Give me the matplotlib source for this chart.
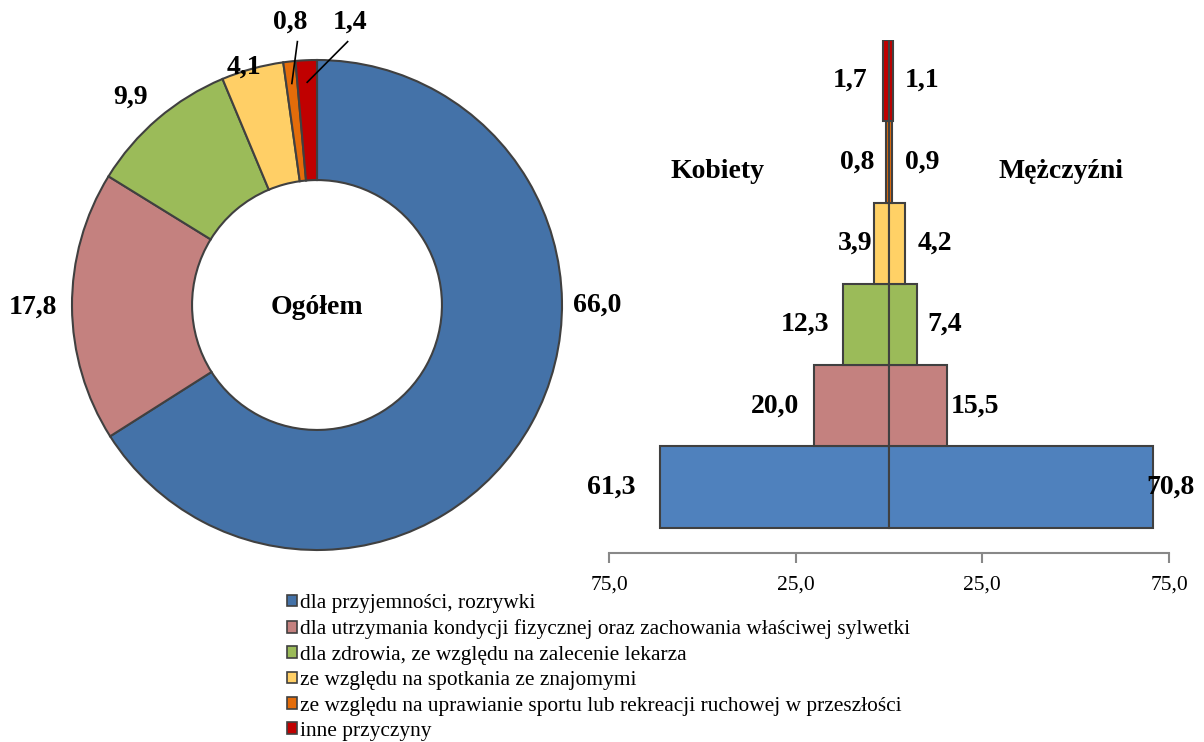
import numpy as np
import matplotlib.pyplot as plt
from matplotlib.patches import Patch

plt.rcParams['font.family'] = ['Liberation Serif', 'DejaVu Serif']

# dane
categories = ['dla przyjemności, rozrywki',
              'dla utrzymania kondycji fizycznej oraz zachowania właściwej sylwetki',
              'dla zdrowia, ze względu na zalecenie lekarza',
              'ze względu na spotkania ze znajomymi',
              'ze względu na uprawianie sportu lub rekreacji ruchowej w przeszłości',
              'inne przyczyny']
ogolem = [66.0, 17.8, 9.9, 4.1, 0.8, 1.4]
kobiety = [61.3, 20.0, 12.3, 3.9, 0.8, 1.7]
mezczyzni = [70.8, 15.5, 7.4, 4.2, 0.9, 1.1]
tick_vals = [-75, -25, 25, 75]

donut_colors = ['#4472A8', '#C4817F', '#9BBB59', '#FFCF66', '#E46C0A', '#C00000']
bar_colors = ['#4F81BD', '#C4817F', '#9BBB59', '#FFD166', '#E46C0A', '#C00000']
edge = '#404040'

# polozenie etykiet
label_pos = [(1.145, 0.0), (-1.16, -0.01), (-0.76, 0.85), (-0.30, 0.97),
             (-0.11, 1.155), (0.135, 1.155)]
kob_label_x = [-74.3, -30.6, -22.5, -9.1, -8.6, -10.5]
men_label_x = [75.3, 23.0, 15.0, 12.3, 8.8, 8.8]


def fmt(v):
    return ('%.1f' % v).replace('.', ',')


fig = plt.figure(figsize=(12.04, 7.42), dpi=100)

# --- pierscien ---
ax1 = fig.add_axes([17 / 1204, 137 / 742, 600 / 1204, 600 / 742])
wedges, _ = ax1.pie(ogolem, colors=donut_colors, startangle=90, counterclock=False,
                    radius=1.0, wedgeprops=dict(width=0.49, edgecolor=edge, linewidth=1.5))
ax1.set_xlim(-1.2245, 1.2245)
ax1.set_ylim(-1.2245, 1.2245)
ax1.set_aspect('equal')
ax1.axis('off')
ax1.text(0, -0.01, 'Ogółem', ha='center', va='center', fontsize=20, fontweight='bold')

for i, (w, v) in enumerate(zip(wedges, ogolem)):
    x, y = label_pos[i]
    ax1.text(x, y, fmt(v), ha='center', va='center', fontsize=20, fontweight='bold')
    if v < 2:
        ang = np.deg2rad((w.theta1 + w.theta2) / 2)
        r = 0.91
        ax1.plot([x + (0.03 if i == 4 else -0.01), r * np.cos(ang)],
                 [y - 0.08, r * np.sin(ang)], color='black', lw=1.2)

# --- piramida ---
ax2 = fig.add_axes([609 / 1204, (742 - 553) / 742, 560 / 1204, 513 / 742])
ax2.patch.set_visible(False)
ypos = np.arange(len(categories))
ax2.barh(ypos, [-v for v in kobiety], height=1.0, color=bar_colors, edgecolor=edge, linewidth=1.5)
ax2.barh(ypos, mezczyzni, height=1.0, color=bar_colors, edgecolor=edge, linewidth=1.5)
ax2.set_xlim(-75, 75)
ax2.set_ylim(-0.81, 5.5)
for y, k, m, kx, mx in zip(ypos, kobiety, mezczyzni, kob_label_x, men_label_x):
    ax2.text(kx, y, fmt(k), ha='center', va='center', fontsize=20, fontweight='bold', clip_on=False)
    ax2.text(mx, y, fmt(m), ha='center', va='center', fontsize=20, fontweight='bold', clip_on=False)
ax2.text(-46, 3.88, 'Kobiety', ha='center', va='center', fontsize=20, fontweight='bold')
ax2.text(46, 3.88, 'Mężczyźni', ha='center', va='center', fontsize=20, fontweight='bold')
ax2.set_xticks(tick_vals)
ax2.set_xticklabels([fmt(abs(t)) for t in tick_vals], fontsize=15.5)
ax2.set_yticks([])
for s in ['top', 'left', 'right']:
    ax2.spines[s].set_visible(False)
ax2.spines['bottom'].set_color('#888888')
ax2.spines['bottom'].set_linewidth(1.5)
ax2.tick_params(axis='x', direction='out', length=7, width=1.5, color='#888888', pad=9)

# --- legenda ---
handles = [Patch(facecolor=c, edgecolor=edge, linewidth=1.2) for c in donut_colors]
fig.legend(handles, categories, loc='upper left', bbox_to_anchor=(287 / 1204, 1 - 594 / 742),
           frameon=False, fontsize=15.4, handlelength=0.47, handleheight=0.47,
           handletextpad=0.12, labelspacing=0.3, borderpad=0, borderaxespad=0)

plt.savefig('out.png', dpi=100)
